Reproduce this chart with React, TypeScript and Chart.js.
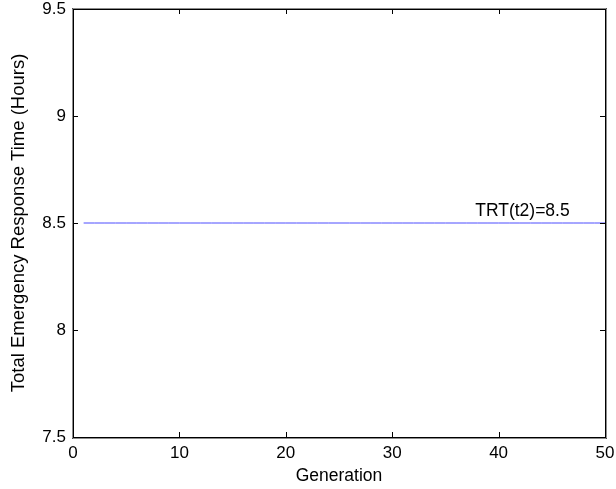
import React, { useEffect, useRef } from "react";
import { Chart, registerables } from "chart.js";

Chart.register(...registerables);

const generations: number[] = Array.from({ length: 50 }, (_, i) => i + 1);
const trtValues: number[] = [
  8.5, 8.5, 8.5, 8.5, 8.5, 8.5, 8.5, 8.5, 8.5, 8.5,
  8.5, 8.5, 8.5, 8.5, 8.5, 8.5, 8.5, 8.5, 8.5, 8.5,
  8.5, 8.5, 8.5, 8.5, 8.5, 8.5, 8.5, 8.5, 8.5, 8.5,
  8.5, 8.5, 8.5, 8.5, 8.5, 8.5, 8.5, 8.5, 8.5, 8.5,
  8.5, 8.5, 8.5, 8.5, 8.5, 8.5, 8.5, 8.5, 8.5, 8.5,
];
const annotationText = "TRT(t2)=8.5";
const annotationX = 37.8;
const annotationY = 8.5;
const xTitle = "Generation";
const yTitle = "Total Emergency Response Time (Hours)";

const FONT = "Liberation Sans, Arial, Helvetica, sans-serif";

const boxPlugin = {
  id: "matlabBox",
  afterDatasetsDraw(chart: any) {
    const ctx: CanvasRenderingContext2D = chart.ctx;
    const area = chart.chartArea;
    const xs = chart.scales.x;
    const ys = chart.scales.y;
    ctx.save();
    const L = Math.round(area.left);
    const R = Math.round(area.right);
    const T = Math.round(area.top);
    const B = Math.round(area.bottom);
    // soft outer edge
    ctx.fillStyle = "rgba(0,0,0,0.45)";
    ctx.fillRect(L - 1, T - 1, R - L + 3, 1);
    ctx.fillRect(L - 1, B + 1, R - L + 3, 1);
    ctx.fillRect(L - 1, T - 1, 1, B - T + 3);
    ctx.fillRect(R + 1, T - 1, 1, B - T + 3);
    // solid box
    ctx.fillStyle = "#000";
    ctx.fillRect(L, T, R - L + 1, 1);
    ctx.fillRect(L, B, R - L + 1, 1);
    ctx.fillRect(L, T, 1, B - T + 1);
    ctx.fillRect(R, T, 1, B - T + 1);
    const tl = 5;
    xs.ticks.forEach((t: any) => {
      const px = Math.round(xs.getPixelForValue(t.value));
      ctx.fillRect(px, B - tl, 1, tl);
      ctx.fillRect(px, T, 1, tl);
    });
    ys.ticks.forEach((t: any) => {
      const py = Math.round(ys.getPixelForValue(t.value));
      ctx.fillRect(L, py, tl, 1);
      ctx.fillRect(R - tl, py, tl, 1);
    });
    ctx.font = `17.5px ${FONT}`;
    ctx.textAlign = "left";
    ctx.textBaseline = "bottom";
    ctx.fillText(
      annotationText,
      xs.getPixelForValue(annotationX),
      ys.getPixelForValue(annotationY) - 3
    );
    ctx.restore();
  },
};

export default function App() {
  const ref = useRef<HTMLCanvasElement>(null);
  useEffect(() => {
    document.body.style.margin = "0";
    const canvas = ref.current!;
    const chart = new Chart(canvas, {
      type: "line",
      data: {
        datasets: [
          {
            data: generations.map((g, i) => ({ x: g, y: trtValues[i] })),
            borderColor: "#4d4dff",
            borderWidth: 1,
            pointRadius: 0,
            tension: 0,
          },
        ],
      },
      options: {
        animation: false,
        responsive: false,
        maintainAspectRatio: false,
        layout: { padding: 0 },
        plugins: {
          legend: { display: false },
          tooltip: { enabled: false },
        },
        scales: {
          x: {
            type: "linear",
            min: 0,
            max: 50,
            grid: { display: false, drawTicks: false },
            border: { display: false },
            ticks: {
              stepSize: 10,
              color: "#000",
              font: { family: FONT, size: 17 },
              padding: 6,
              maxRotation: 0,
            },
            title: {
              display: true,
              text: xTitle,
              color: "#000",
              font: { family: FONT, size: 17.5 },
              padding: { top: 0, bottom: 2 },
            },
            afterFit: (s: any) => {
              s.height = 52;
              s.paddingLeft = 0;
              s.paddingRight = 11;
            },
          },
          y: {
            type: "linear",
            min: 7.5,
            max: 9.5,
            grid: { display: false, drawTicks: false },
            border: { display: false },
            ticks: {
              stepSize: 0.5,
              color: "#000",
              font: { family: FONT, size: 17 },
              padding: 7,
              callback: (v: any) => String(v),
            },
            title: {
              display: true,
              text: yTitle,
              color: "#000",
              font: { family: FONT, size: 18.5 },
              padding: { top: 8, bottom: 0 },
            },
            afterFit: (s: any) => {
              s.width = 73;
              s.paddingTop = 9;
              s.paddingBottom = 0;
            },
          },
        },
      },
      plugins: [boxPlugin],
    });
    return () => chart.destroy();
  }, []);
  return (
    <div style={{ width: 616, height: 489 }}>
      <canvas ref={ref} width={616} height={489} style={{ display: "block" }} />
    </div>
  );
}
